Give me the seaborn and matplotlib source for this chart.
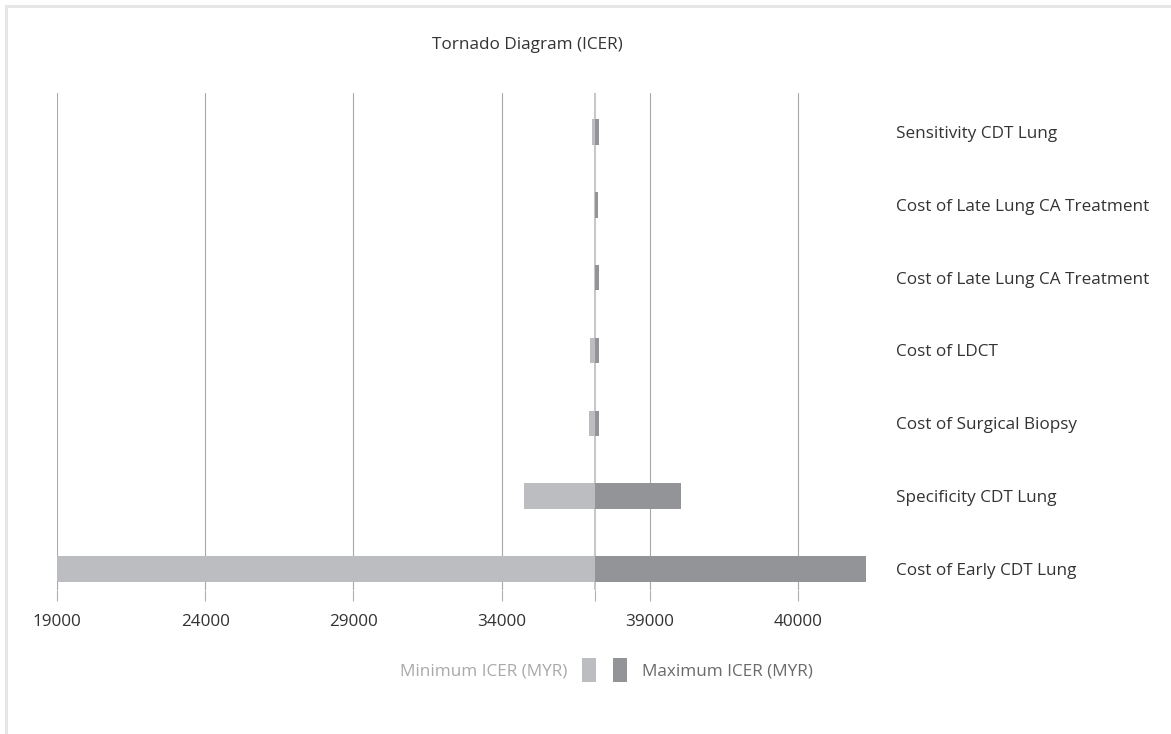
import numpy as np
import pandas as pd
import matplotlib
matplotlib.use("Agg")
import matplotlib.pyplot as plt
from matplotlib.patches import Patch, Rectangle
import seaborn as sns

# One-way sensitivity analysis results (ICER, MYR), listed top to bottom
PARAMETERS = [
    "Sensitivity CDT Lung",
    "Cost of Late Lung CA Treatment",
    "Cost of Late Lung CA Treatment",
    "Cost of LDCT",
    "Cost of Surgical Biopsy",
    "Specificity CDT Lung",
    "Cost of Early CDT Lung",
]
MIN_ICER = [37060, 37170, 37170, 36980, 36950, 34750, 19000]
MAX_ICER = [37300, 37250, 37290, 37290, 37290, 40050, 46300]
BASE_ICER = 37170

TICK_VALUES = [19000, 24000, 29000, 34000, 39000, 44000]
TICK_LABELS = ["19000", "24000", "29000", "34000", "39000", "40000"]

LIGHT = "#bcbdc1"
DARK = "#939497"
TEXT = "#333333"
FS = 12.3

sns.set_theme(style="white")
plt.rcParams["font.family"] = ["Open Sans", "DejaVu Sans"]

W, H = 1171, 734
fig = plt.figure(figsize=(W / 100, H / 100), dpi=100)
ax = fig.add_axes([57 / W, 1 - 590 / H, 809 / W, 497 / H])

rows = [str(i) for i in range(len(PARAMETERS))]
df = pd.DataFrame({
    "row": rows,
    "low": np.array(MIN_ICER) - BASE_ICER,
    "high": np.array(MAX_ICER) - BASE_ICER,
})

# Bars grow out from the base-case ICER in both directions
bar_kws = dict(data=df, y="row", order=rows, orient="h", width=0.35,
               errorbar=None, saturation=1, left=BASE_ICER, linewidth=0,
               zorder=3, ax=ax)
sns.barplot(x="low", color=LIGHT, **bar_kws)
sns.barplot(x="high", color=DARK, **bar_kws)

# Base-case reference line
ax.axvline(BASE_ICER, color="#c8c8c8", lw=1.5, zorder=2)

# X axis
ax.set_xlim(min(MIN_ICER), max(MAX_ICER))
ax.set_xticks(TICK_VALUES, TICK_LABELS)
ax.set_xticks([BASE_ICER], minor=True)
ax.tick_params(axis="x", which="both", bottom=True, length=8, width=0.8,
               color="#b0b0b0", labelsize=FS, labelcolor=TEXT, pad=9)
ax.grid(axis="x", which="major", color="#a8a8a8", linewidth=0.8)
ax.set_axisbelow(True)

# Parameter names on the right
ax.yaxis.tick_right()
ax.set_yticks(range(len(PARAMETERS)), PARAMETERS)
ax.set_ylim(len(PARAMETERS) - 1 + 0.29, -0.536)
ax.tick_params(axis="y", length=0, pad=21.6, labelsize=FS, labelcolor=TEXT)
ax.set_xlabel("")
ax.set_ylabel("")
sns.despine(ax=ax, left=True, bottom=True, top=True, right=True)

# Title
fig.text(527.5 / W, 1 - 45 / H, "Tornado Diagram (ICER)", ha="center",
         va="center", fontsize=FS, color=TEXT)

# Legend: label-then-box for the minimum, box-then-label for the maximum
fs_px = FS * 100 / 72
common = dict(frameon=False, fontsize=FS, handlelength=14 / fs_px,
              handleheight=32 / fs_px, handletextpad=15 / fs_px, borderpad=0,
              borderaxespad=0)
fig.legend([Patch(facecolor=LIGHT, edgecolor="none")], ["Minimum ICER (MYR)"],
           loc="center right", bbox_to_anchor=(596 / W, 1 - 670 / H),
           markerfirst=False, labelcolor="#a9a9a9", **common)
fig.legend([Patch(facecolor=DARK, edgecolor="none")], ["Maximum ICER (MYR)"],
           loc="center left", bbox_to_anchor=(613 / W, 1 - 670 / H),
           labelcolor="#6a6a6a", **common)

# Card border along the top and left edges
fig.patches.append(Rectangle((6 / W, -0.1), 1.2, 1.1 - 6 / H, fill=False,
                             edgecolor="#e6e6e6", lw=2.2,
                             transform=fig.transFigure, figure=fig))

fig.savefig("out.png", dpi=100)
